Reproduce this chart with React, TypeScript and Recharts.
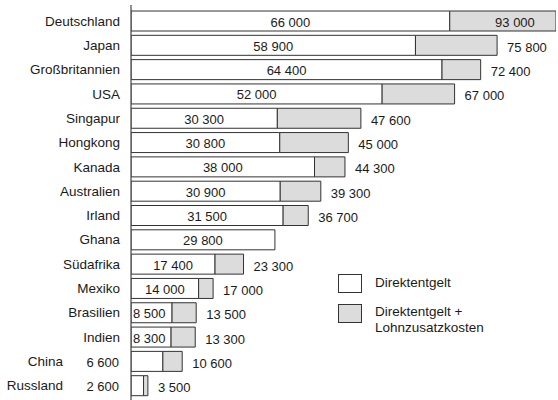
import React from 'react';
import { BarChart, Bar, XAxis, YAxis, LabelList } from 'recharts';

const countries = [
  'Deutschland', 'Japan', 'Großbritannien', 'USA', 'Singapur', 'Hongkong', 'Kanada',
  'Australien', 'Irland', 'Ghana', 'Südafrika', 'Mexiko', 'Brasilien', 'Indien', 'China', 'Russland',
];
const direkt = [66000, 58900, 64400, 52000, 30300, 30800, 38000, 30900, 31500, 29800, 17400, 14000, 8500, 8300, 6600, 2600];
// Ghana: no Lohnzusatzkosten shown
const gesamt: (number | null)[] = [93000, 75800, 72400, 67000, 47600, 45000, 44300, 39300, 36700, null, 23300, 17000, 13500, 13300, 10600, 3500];

const W = 558;
const H = 400;
const AXIS_X = 131;
const PLOT_RIGHT = 556;
const X_MAX = 88000;
const FONT = '"Liberation Sans", Arial, Helvetica, sans-serif';
const INK = '#1a1a1a';
const GRAY = '#dcdcdc';

const data = countries.map((land, i) => ({
  land,
  direkt: direkt[i],
  zusatz: gesamt[i] == null ? 0 : (gesamt[i] as number) - direkt[i],
  gesamt: gesamt[i],
}));

const fmt = (n: number) => String(n).replace(/\B(?=(\d{3})+(?!\d))/g, ' ');

const CountryTick = (props: any) => {
  const { y, payload, index } = props;
  const small = direkt[index] < 7000;
  return (
    <text
      x={small ? AXIS_X - 68 : AXIS_X - 11}
      y={y}
      textAnchor="end"
      dominantBaseline="central"
      fontFamily={FONT}
      fontSize={13.5}
      fill={INK}
    >
      {payload.value}
    </text>
  );
};

const DirektLabel = (props: any) => {
  const { x, y, width, height, value } = props;
  const cy = y + height / 2 + 1;
  let tx = x + width / 2;
  let anchor: 'middle' | 'start' | 'end' = 'middle';
  if (value < 7000) {
    tx = AXIS_X - 12;
    anchor = 'end';
  } else if (value < 10000) {
    tx = x + 2;
    anchor = 'start';
  }
  return (
    <text x={tx} y={cy} textAnchor={anchor} dominantBaseline="central" fontFamily={FONT} fontSize={13} fill={INK}>
      {fmt(value)}
    </text>
  );
};

const GesamtLabel = (props: any) => {
  const { x, y, width, height, value, index } = props;
  if (value == null) return null;
  const cy = y + height / 2 + 2;
  if (value > X_MAX) {
    // bar runs past the right edge: centre the label on the full (unclipped) grey segment
    const k = (PLOT_RIGHT - AXIS_X) / X_MAX;
    const segW = (value - direkt[index]) * k;
    return (
      <text x={x + segW / 2} y={cy - 1} textAnchor="middle" dominantBaseline="central" fontFamily={FONT} fontSize={13} fill={INK}>
        {fmt(value)}
      </text>
    );
  }
  return (
    <text x={x + width + 10} y={cy} textAnchor="start" dominantBaseline="central" fontFamily={FONT} fontSize={13} fill={INK}>
      {fmt(value)}
    </text>
  );
};

const legendBox = (fill: string) => (
  <div style={{ width: 24, height: 19, background: fill, border: '1px solid #333', boxSizing: 'border-box', flexShrink: 0 }} />
);

export default function App() {
  return (
    <div style={{ position: 'absolute', left: 0, top: 0, width: W, height: H, background: '#fff', overflow: 'hidden' }}>
      <BarChart
        width={W}
        height={H}
        data={data}
        layout="vertical"
        margin={{ top: 5, right: W - PLOT_RIGHT, bottom: 0, left: 0 }}
        barSize={20}
      >
        <XAxis type="number" domain={[0, X_MAX]} allowDataOverflow hide />
        <YAxis
          type="category"
          dataKey="land"
          width={AXIS_X}
          axisLine={{ stroke: '#444', strokeWidth: 1.2 }}
          tickLine={false}
          tick={<CountryTick />}
          padding={{ top: 4, bottom: 2 }}
          interval={0}
        />
        <Bar dataKey="direkt" stackId="a" fill="#fff" stroke="#333" strokeWidth={1} isAnimationActive={false}>
          <LabelList dataKey="direkt" content={<DirektLabel />} />
        </Bar>
        <Bar dataKey="zusatz" stackId="a" fill={GRAY} stroke="#333" strokeWidth={1} isAnimationActive={false}>
          <LabelList dataKey="gesamt" content={<GesamtLabel />} />
        </Bar>
      </BarChart>
      <div
        style={{
          position: 'absolute',
          left: 338,
          top: 274,
          fontFamily: FONT,
          fontSize: 13.5,
          color: INK,
          lineHeight: '16px',
        }}
      >
        <div style={{ display: 'flex', alignItems: 'flex-start' }}>
          {legendBox('#fff')}
          <div style={{ marginLeft: 13, marginTop: 1 }}>Direktentgelt</div>
        </div>
        <div style={{ display: 'flex', alignItems: 'flex-start', marginTop: 11 }}>
          {legendBox(GRAY)}
          <div style={{ marginLeft: 13, marginTop: 0, whiteSpace: 'nowrap' }}>
            Direktentgelt +<br />
            Lohnzusatzkosten
          </div>
        </div>
      </div>
    </div>
  );
}
